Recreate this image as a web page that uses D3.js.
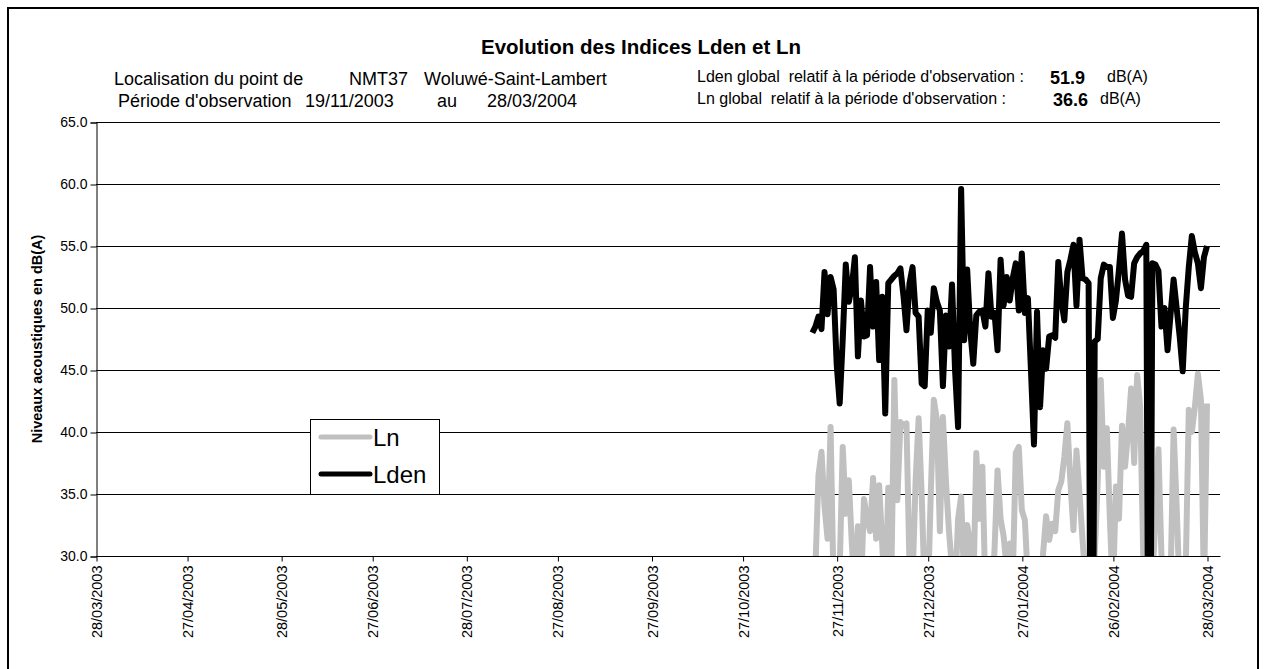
<!DOCTYPE html>
<html><head><meta charset="utf-8">
<script src="https://cdn.jsdelivr.net/npm/d3@7"></script>
<style>
body{margin:0;background:#fff}
svg{display:block;font-family:"Liberation Sans",Arial,Helvetica,sans-serif}
text{white-space:pre}
</style>
</head><body>
<svg id="chart" width="1268" height="669"></svg>
<script>
// ---------- data ----------
const chartTitle = "Evolution des Indices Lden et Ln";
const yAxisTitle = "Niveaux acoustiques en dB(A)";
const seriesNames = ["Ln", "Lden"];
const yTickValues = [30, 35, 40, 45, 50, 55, 60, 65];
const xTickLabels = ["28/03/2003","27/04/2003","28/05/2003","27/06/2003","28/07/2003","27/08/2003",
  "27/09/2003","27/10/2003","27/11/2003","27/12/2003","27/01/2004","26/02/2004","28/03/2004"];
const firstDay = "19/11/2003";
const lastDay = "28/03/2004";
const ldenGlobal = "51.9";
const lnGlobal = "36.6";
const lden = [48.0,48.5,49.3,48.3,52.9,49.5,52.5,51.5,45.5,42.3,47.5,53.5,50.5,51.7,54.1,46.1,50.6,47.7,47.8,53.3,
  48.5,52.1,45.8,50.9,41.5,52.0,52.3,52.6,52.8,53.2,51.0,48.2,52.0,53.3,49.6,49.3,43.9,43.7,49.8,48.0,
  51.6,50.5,49.8,43.7,49.4,46.9,51.9,45.0,40.4,59.6,47.4,53.1,48.2,45.5,49.4,49.7,49.8,48.5,52.8,49.3,
  49.6,46.6,53.9,50.2,52.5,50.6,52.4,53.6,49.8,54.4,49.6,50.8,45.0,39.0,49.7,42.0,46.6,45.1,47.7,47.8,
  47.6,53.7,50.6,49.0,52.9,53.9,55.1,50.2,55.5,52.4,52.3,52.0,0,47.3,47.5,52.4,53.5,53.3,53.3,49.2,
  50.6,53.1,56.0,52.3,51.0,50.9,53.6,54.1,54.4,54.6,55.1,0,53.6,53.5,53.0,48.5,50.0,46.6,49.5,52.3,
  50.0,47.7,44.9,50.0,53.3,55.8,54.5,53.6,51.6,54.1,55.0];
const ln = [27,29,36.5,38.4,34,31.4,40.4,27,25,29,38.8,33.4,36.1,31,27,32.4,27,34.6,33,32,
  36.3,31.4,35.7,31,26,35.5,28,44.2,34.5,40.8,40.5,40.7,29,28,36,41.1,35,27,26,35,
  42.6,41,32,41.2,36,32,29,27,33,34.8,28,32.5,31,27,38.3,33,37.2,27,28,26,
  30.5,36.9,33,31.6,29,31,28,38.3,38.8,33.7,32.9,28,27,26,29,27,30.2,33.2,31.3,32.6,
  32,35.3,36,38,40.7,36,32.1,38.5,35,31.3,28,27,26,30,36,44.2,37.2,40.3,33,27,
  35.6,33,40.5,37.2,40,43.5,37.5,44.6,42,30,27,26,28,33,38.6,30,27,26,28,40.2,
  34,27,26,29,41.8,40,42,44.7,42.6,27,42.3];

// ---------- layout ----------
const svg = d3.select("#chart");
const plot = {left: 96, right: 1220, top: 122, bottom: 556};
const parse = d3.utcParse("%d/%m/%Y");
const tickDates = xTickLabels.map(parse);

const x = d3.scaleUtc()
  .domain([tickDates[0], tickDates[tickDates.length - 1]])
  .range([plot.left, 1207]);
const y = d3.scaleLinear().domain([30, 65]).range([plot.bottom, plot.top]);

// outer frame
svg.append("rect").attr("x", 8).attr("y", 8).attr("width", 1250).attr("height", 680)
  .attr("fill", "none").attr("stroke", "#000").attr("stroke-width", 2);

// gridlines
svg.append("g").selectAll("line").data(yTickValues).join("line")
  .attr("x1", plot.left).attr("x2", plot.right)
  .attr("y1", d => Math.round(y(d)) + 0.5).attr("y2", d => Math.round(y(d)) + 0.5)
  .attr("stroke", "#000").attr("stroke-width", 1);

// y axis
const yAxis = svg.append("g").attr("transform", `translate(${plot.left + 0.5},0.5)`)
  .call(d3.axisLeft(y).tickValues(yTickValues).tickFormat(d3.format(".1f")).tickSize(6).tickPadding(3));
yAxis.select(".domain").attr("stroke", "#000");
yAxis.selectAll("text").attr("font-size", "14px").attr("fill", "#000")
  .attr("font-family", "Liberation Sans, Arial, sans-serif");

// x axis
const xAxis = svg.append("g").attr("transform", `translate(0.5,${plot.bottom + 0.5})`)
  .call(d3.axisBottom(x).tickValues(tickDates).tickFormat((d, i) => xTickLabels[i]).tickSize(5).tickSizeOuter(0));
xAxis.select(".domain").attr("d", `M${plot.left},0H${plot.right}`).attr("stroke", "#000");
xAxis.selectAll("text")
  .attr("font-size", "14.5px").attr("fill", "#000")
  .attr("font-family", "Liberation Sans, Arial, sans-serif")
  .attr("transform", "rotate(-90)")
  .attr("text-anchor", "end")
  .attr("x", -9).attr("y", 0).attr("dy", "0.35em");

// clip
svg.append("clipPath").attr("id", "clip").append("rect")
  .attr("x", plot.left).attr("y", plot.top).attr("width", plot.right - plot.left).attr("height", plot.bottom - plot.top);

const start = parse(firstDay);
const dates = lden.map((_, i) => d3.utcDay.offset(start, i));
const line = d3.line().x((d, i) => x(dates[i])).y(d => y(d));

const lines = svg.append("g").attr("clip-path", "url(#clip)");
lines.append("path").datum(ln).attr("d", line)
  .attr("fill", "none").attr("stroke", "#c0c0c0").attr("stroke-width", 6).attr("stroke-linejoin", "round");
lines.append("path").datum(lden).attr("d", line)
  .attr("fill", "none").attr("stroke", "#000").attr("stroke-width", 6).attr("stroke-linejoin", "round");

// title
svg.append("text").attr("x", 641).attr("y", 54).attr("text-anchor", "middle")
  .attr("font-weight", "bold").attr("font-size", "20.5px").text(chartTitle);

// subtitles left
const sub = svg.append("g").attr("font-size", "18px").attr("fill", "#000");
sub.append("text").attr("x", 114).attr("y", 85).text("Localisation du point de");
sub.append("text").attr("x", 349).attr("y", 85).text("NMT37");
sub.append("text").attr("x", 424).attr("y", 85).text("Woluwé-Saint-Lambert");
sub.append("text").attr("x", 118).attr("y", 107).text("Période d'observation");
sub.append("text").attr("x", 305).attr("y", 107).text(firstDay);
sub.append("text").attr("x", 437).attr("y", 107).text("au");
sub.append("text").attr("x", 487).attr("y", 107).text(lastDay);

// right info
const info = svg.append("g").attr("font-size", "16px").attr("fill", "#000");
info.append("text").attr("x", 697).attr("y", 82).text("Lden global  relatif à la période d'observation :");
info.append("text").attr("x", 1050).attr("y", 84).attr("font-weight", "bold").attr("font-size", "18px").text(ldenGlobal);
info.append("text").attr("x", 1107).attr("y", 82).text("dB(A)");
info.append("text").attr("x", 697).attr("y", 104).text("Ln global  relatif à la période d'observation :");
info.append("text").attr("x", 1053).attr("y", 106).attr("font-weight", "bold").attr("font-size", "18px").text(lnGlobal);
info.append("text").attr("x", 1100).attr("y", 104).text("dB(A)");

// y axis title
svg.append("text").attr("transform", `translate(42,${(plot.top + plot.bottom) / 2}) rotate(-90)`)
  .attr("text-anchor", "middle").attr("font-weight", "bold").attr("font-size", "14.5px").text(yAxisTitle);

// legend
const lg = svg.append("g");
lg.append("rect").attr("x", 310.5).attr("y", 419.5).attr("width", 129).attr("height", 75)
  .attr("fill", "#fff").attr("stroke", "#000").attr("stroke-width", 1);
const legendColors = ["#c0c0c0", "#000"];
seriesNames.forEach((name, i) => {
  const cy = 437 + i * 37;
  lg.append("line").attr("x1", 321).attr("x2", 370).attr("y1", cy).attr("y2", cy)
    .attr("stroke", legendColors[i]).attr("stroke-width", 5).attr("stroke-linecap", "round");
  lg.append("text").attr("x", 373).attr("y", cy + 9).attr("font-size", "24px").text(name);
});
</script>
</body></html>
